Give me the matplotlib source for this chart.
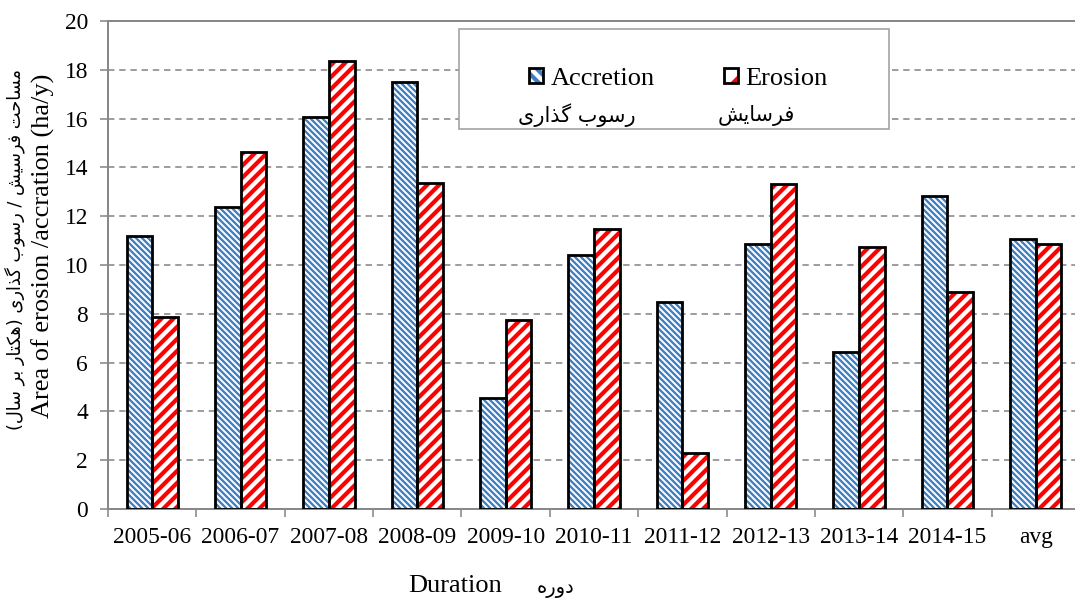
import numpy as np
import matplotlib as mpl
import matplotlib.pyplot as plt
from matplotlib.patches import Patch, Rectangle
from matplotlib.legend_handler import HandlerTuple
from matplotlib.ticker import FixedLocator

plt.rcParams['font.family'] = ['Liberation Serif', 'DejaVu Sans']

periods = ["2005-06", "2006-07", "2007-08", "2008-09", "2009-10", "2010-11",
           "2011-12", "2012-13", "2013-14", "2014-15", "avg"]
accretion = [11.17, 12.39, 16.07, 17.50, 4.54, 10.43, 8.47, 10.88, 6.42, 12.84, 11.08]
erosion = [7.85, 14.64, 18.36, 13.37, 7.73, 11.49, 2.29, 13.33, 10.72, 8.88, 10.88]

BLUE = '#3f7fc0'
RED = '#ff0000'
BLUE_HATCH, BLUE_HLW = '\\' * 4, 2.3
RED_HATCH, RED_HLW = '//', 4.2

# presentation forms: isolated, final, initial, medial
FORMS = {
    'ا': ('\uFE8D', '\uFE8E', None, None),
    'ب': ('\uFE8F', '\uFE90', '\uFE91', '\uFE92'),
    'ت': ('\uFE95', '\uFE96', '\uFE97', '\uFE98'),
    'ح': ('\uFEA1', '\uFEA2', '\uFEA3', '\uFEA4'),
    'د': ('\uFEA9', '\uFEAA', None, None),
    'ذ': ('\uFEAB', '\uFEAC', None, None),
    'ر': ('\uFEAD', '\uFEAE', None, None),
    'س': ('\uFEB1', '\uFEB2', '\uFEB3', '\uFEB4'),
    'ش': ('\uFEB5', '\uFEB6', '\uFEB7', '\uFEB8'),
    'ف': ('\uFED1', '\uFED2', '\uFED3', '\uFED4'),
    'ل': ('\uFEDD', '\uFEDE', '\uFEDF', '\uFEE0'),
    'م': ('\uFEE1', '\uFEE2', '\uFEE3', '\uFEE4'),
    'ه': ('\uFEE9', '\uFEEA', '\uFEEB', '\uFEEC'),
    'و': ('\uFEED', '\uFEEE', None, None),
    'ک': ('\uFB8E', '\uFB8F', '\uFB90', '\uFB91'),
    'گ': ('\uFB92', '\uFB93', '\uFB94', '\uFB95'),
    'ی': ('\uFBFC', '\uFBFD', '\uFBFE', '\uFBFF'),
}


def fa(s):
    # minimal shaping + right-to-left order, matplotlib does neither
    out = []
    for i, ch in enumerate(s):
        if ch not in FORMS:
            out.append(ch)
            continue
        f = FORMS[ch]
        prev = s[i - 1] if i > 0 else ''
        nxt = s[i + 1] if i < len(s) - 1 else ''
        jp = prev in FORMS and FORMS[prev][2] is not None
        jn = f[2] is not None and nxt in FORMS
        if jp and jn:
            out.append(f[3])
        elif jp:
            out.append(f[1])
        elif jn:
            out.append(f[2])
        else:
            out.append(f[0])
    return ''.join(reversed(out)).translate(str.maketrans('()', ')('))


def hatched(patches, lw):
    for p in patches:
        try:
            p.set_hatch_linewidth(lw)
        except AttributeError:
            pass


FA_FONT = ['DejaVu Sans']
W, H = 1075, 603

# 72 dpi so that one point is one pixel and hatch spacing matches the original
fig = plt.figure(figsize=(W / 72, H / 72), dpi=72)
ax = fig.add_axes([108 / W, 1 - 509 / H, 972 / W, 488 / H])

x = np.arange(len(periods))
w = 0.29
for vals, off, col, hatch, hlw in [(accretion, -w / 2, BLUE, BLUE_HATCH, BLUE_HLW),
                                   (erosion, w / 2, RED, RED_HATCH, RED_HLW)]:
    mpl.rcParams['hatch.linewidth'] = hlw
    bars = ax.bar(x + off, vals, w, color='white', edgecolor=col, hatch=hatch,
                  linewidth=0, zorder=2)
    hatched(bars, hlw)
    ax.bar(x + off, vals, w, fill=False, edgecolor='black', linewidth=2.8, zorder=3)

ax.set_xlim(-0.5, len(periods) - 0.5)
ax.set_ylim(0, 20)
ax.set_yticks(np.arange(0, 21, 2))
ax.set_xticks(x)
ax.set_xticklabels(periods)
ax.xaxis.set_minor_locator(FixedLocator(np.arange(-0.5, len(periods), 1)))
ax.tick_params(axis='x', which='major', length=0, pad=18, labelsize=23.5)
ax.tick_params(axis='x', which='minor', length=8, width=1.6, color='#888888', direction='out')
ax.tick_params(axis='y', length=8, width=1.6, color='#888888', pad=12, labelsize=23.5)

ax.yaxis.grid(True, linestyle=(0, (4, 3)), color='#888888', linewidth=1.6, zorder=0)
ax.set_axisbelow(True)
for side in ['left', 'bottom', 'top']:
    ax.spines[side].set_color('#888888')
    ax.spines[side].set_linewidth(2)
ax.spines['right'].set_visible(False)

# legend box
fig.patches.append(Rectangle((459 / W, 1 - 129 / H), 430 / W, 100 / H,
                             transform=fig.transFigure, facecolor='white',
                             edgecolor='#a0a0a0', linewidth=1.6, zorder=1))
mpl.rcParams['hatch.linewidth'] = BLUE_HLW
h_acc = (Patch(facecolor='white', edgecolor=BLUE, hatch='\\\\', linewidth=0),
         Patch(fill=False, edgecolor='black', linewidth=2.8))
mpl.rcParams['hatch.linewidth'] = RED_HLW
h_ero = (Patch(facecolor='white', edgecolor=RED, hatch='/', linewidth=0),
         Patch(fill=False, edgecolor='black', linewidth=2.8))
hatched([h_acc[0]], BLUE_HLW)
hatched([h_ero[0]], RED_HLW)
fig.legend([h_acc, h_ero], ['Accretion', 'Erosion'], ncol=2, frameon=False,
           loc='center left', bbox_to_anchor=(529 / W, 1 - 79 / H),
           borderpad=0, borderaxespad=0, fontsize=26.4, handlelength=0.53,
           handleheight=0.53, handletextpad=0.3, columnspacing=2.6,
           handler_map={tuple: HandlerTuple(ndivide=1)})
fig.text(577 / W, 1 - 115 / H, fa('رسوب گذاری'), family=FA_FONT, fontsize=20.8,
         ha='center', va='center', zorder=4)
fig.text(756 / W, 1 - 115 / H, fa('فرسایش'), family=FA_FONT, fontsize=20.8,
         ha='center', va='center', zorder=4)

# axis titles
fig.text(43 / W, 1 - 246 / H, 'Area of erosion /accration (ha/y)', fontsize=26.4,
         rotation=90, ha='center', va='center')
fig.text(15 / W, 1 - 250 / H, fa('مساحت فرسیش / رسوب گذاری (هکتار بر سال)'),
         family=FA_FONT, fontsize=17.8, rotation=90, ha='center', va='center')
fig.text(455 / W, 1 - 586 / H, 'Duration', fontsize=26.4, ha='center', va='center')
fig.text(555 / W, 1 - 589 / H, fa('دوره'), family=FA_FONT, fontsize=19.5,
         ha='center', va='center')

fig.savefig('out.png', dpi=72)
